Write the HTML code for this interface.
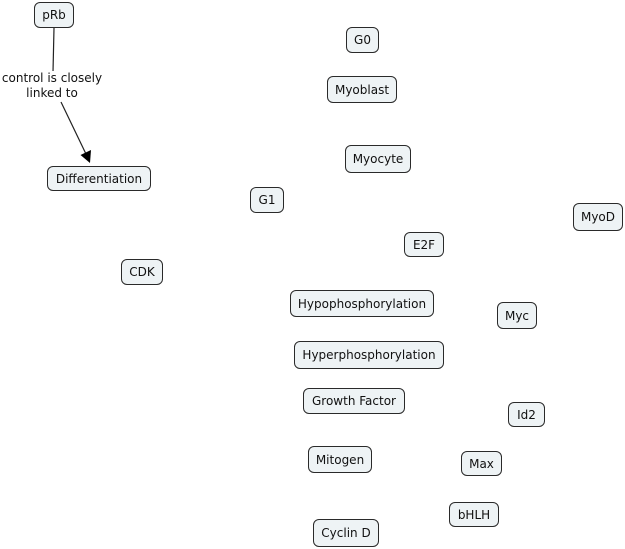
<!DOCTYPE html>
<html>
<head>
<meta charset="utf-8">
<style>
  html, body { margin:0; padding:0; background:#fff; }
  body { width:625px; height:549px; position:relative; overflow:hidden;
         font-family:"DejaVu Sans","Liberation Sans",sans-serif; font-size:12px; color:#111; }
  .n { position:absolute; box-sizing:border-box; border:1px solid #2a2a2a; border-radius:6px;
       background:#eef3f5; display:flex; align-items:center; justify-content:center;
       white-space:nowrap; }
  .lbl { position:absolute; text-align:center; line-height:15px; white-space:nowrap; background:#fff; }
  svg { position:absolute; left:0; top:0; }
</style>
</head>
<body>
<svg width="625" height="549" viewBox="0 0 625 549">
  <line x1="54" y1="28" x2="53" y2="72" stroke="#222" stroke-width="1.2"/>
  <line x1="61" y1="102" x2="86" y2="154" stroke="#222" stroke-width="1.2"/>
  <polygon points="90,163 80.5,155 91,150" fill="#000"/>
</svg>
<div class="lbl" style="left:-3px;top:71px;width:110px;">control is closely<br>linked to</div>

<div class="n" style="left:34px;top:2px;width:40px;height:26px;">pRb</div>
<div class="n" style="left:47px;top:166px;width:104px;height:25px;">Differentiation</div>
<div class="n" style="left:346px;top:27px;width:33px;height:26px;">G0</div>
<div class="n" style="left:327px;top:76px;width:70px;height:27px;">Myoblast</div>
<div class="n" style="left:345px;top:145px;width:66px;height:28px;">Myocyte</div>
<div class="n" style="left:250px;top:187px;width:34px;height:26px;">G1</div>
<div class="n" style="left:573px;top:203px;width:50px;height:28px;">MyoD</div>
<div class="n" style="left:404px;top:232px;width:40px;height:25px;">E2F</div>
<div class="n" style="left:121px;top:259px;width:42px;height:26px;">CDK</div>
<div class="n" style="left:290px;top:290px;width:144px;height:27px;">Hypophosphorylation</div>
<div class="n" style="left:497px;top:302px;width:40px;height:27px;">Myc</div>
<div class="n" style="left:294px;top:341px;width:150px;height:28px;">Hyperphosphorylation</div>
<div class="n" style="left:303px;top:388px;width:102px;height:26px;">Growth Factor</div>
<div class="n" style="left:508px;top:402px;width:37px;height:25px;">Id2</div>
<div class="n" style="left:308px;top:446px;width:64px;height:27px;">Mitogen</div>
<div class="n" style="left:461px;top:451px;width:41px;height:25px;">Max</div>
<div class="n" style="left:449px;top:502px;width:50px;height:25px;">bHLH</div>
<div class="n" style="left:313px;top:519px;width:66px;height:28px;">Cyclin D</div>
</body>
</html>
